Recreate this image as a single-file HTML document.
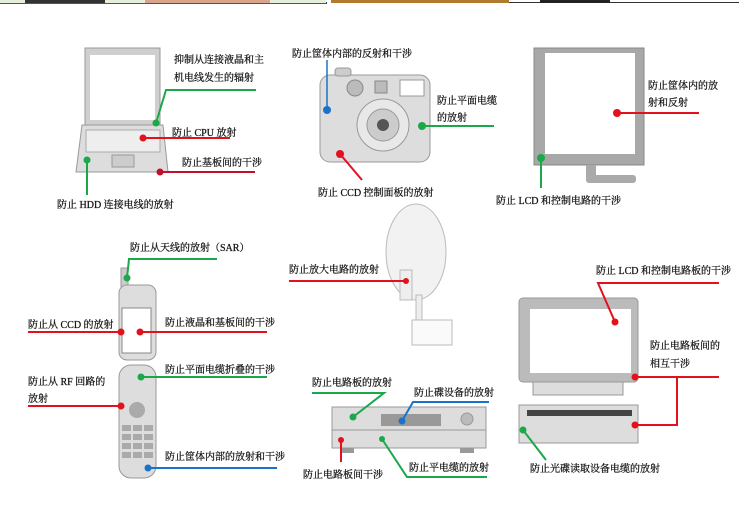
<!DOCTYPE html>
<html><head><meta charset="utf-8"><style>
html,body{margin:0;padding:0;background:#fff;}
svg{display:block}
text{font-family:"Liberation Serif","Noto Serif CJK SC",serif;font-size:10px;fill:#111;stroke:#111;stroke-width:0.25;}
</style></head><body>
<svg width="740" height="520" viewBox="0 0 740 520" xmlns="http://www.w3.org/2000/svg">
<!-- top strip -->
<rect x="0" y="0" width="326" height="3" fill="#e6eedc"/>
<rect x="25" y="0" width="80" height="3" fill="#333"/>
<rect x="145" y="0" width="125" height="3" fill="#d9a58a"/>
<rect x="326" y="2" width="1" height="1" fill="#333"/>
<rect x="331" y="0" width="178" height="3" fill="#b07a30"/>
<rect x="509" y="0" width="231" height="3" fill="#fff"/>
<rect x="509" y="2" width="230" height="1" fill="#333"/>
<rect x="540" y="0" width="70" height="3" fill="#222"/>
<rect x="0" y="3" width="327" height="1" fill="#555"/>

<g stroke-width="2" fill="none">
<!-- Laptop -->
<rect x="85" y="48" width="75" height="77" fill="#cfcfcf" stroke="#999" stroke-width="1"/>
<rect x="90" y="55" width="65" height="65" fill="#fff" stroke="none"/>
<polygon points="82,125 163,125 168,172 76,172" fill="#ddd" stroke="#999" stroke-width="1"/>
<rect x="86" y="130" width="74" height="22" fill="#eee" stroke="#aaa" stroke-width="1"/>
<rect x="112" y="155" width="22" height="12" fill="#ccc" stroke="#999" stroke-width="1"/>
<polyline points="156,123 166,90 256,90" stroke="#1aa84a"/>
<line x1="143" y1="138" x2="230" y2="138" stroke="#e3101d"/>
<line x1="160" y1="172" x2="255" y2="172" stroke="#c0102a"/>
<line x1="87" y1="160" x2="87" y2="195" stroke="#1aa84a"/>

<!-- Camera -->
<rect x="320" y="75" width="110" height="87" rx="10" fill="#ddd" stroke="#999" stroke-width="1"/>
<rect x="335" y="68" width="16" height="8" rx="3" fill="#ccc" stroke="#999" stroke-width="1"/>
<rect x="400" y="80" width="24" height="16" fill="#fff" stroke="#999" stroke-width="1"/>
<circle cx="355" cy="88" r="8" fill="#bbb" stroke="#888" stroke-width="1"/>
<rect x="375" y="81" width="12" height="12" fill="#bbb" stroke="#888" stroke-width="1"/>
<circle cx="383" cy="125" r="26" fill="#e8e8e8" stroke="#999" stroke-width="1"/>
<circle cx="383" cy="125" r="16" fill="#ccc" stroke="#999" stroke-width="1"/>
<circle cx="383" cy="125" r="6" fill="#555" stroke="none"/>
<line x1="327" y1="60" x2="327" y2="108" stroke="#1a73c8" stroke-width="1.5"/>
<line x1="422" y1="126" x2="494" y2="126" stroke="#1aa84a"/>
<line x1="340" y1="154" x2="362" y2="180" stroke="#e3101d"/>

<!-- Monitor -->
<rect x="534" y="48" width="110" height="117" fill="#a8a8a8" stroke="#888" stroke-width="1"/>
<rect x="545" y="53" width="90" height="101" fill="#fff" stroke="none"/>
<rect x="586" y="165" width="10" height="12" fill="#aaa" stroke="none"/>
<rect x="586" y="175" width="50" height="8" rx="3" fill="#aaa" stroke="none"/>
<line x1="617" y1="113" x2="699" y2="113" stroke="#e3101d"/>
<line x1="541" y1="158" x2="541" y2="188" stroke="#1aa84a"/>

<!-- Phone -->
<rect x="121" y="268" width="7" height="20" fill="#ccc" stroke="#999" stroke-width="1"/>
<rect x="119" y="285" width="37" height="75" rx="8" fill="#ddd" stroke="#999" stroke-width="1"/>
<rect x="122" y="308" width="29" height="45" fill="#fff" stroke="#888" stroke-width="1"/>
<rect x="119" y="365" width="37" height="113" rx="12" fill="#ddd" stroke="#999" stroke-width="1"/>
<g fill="#aaa" stroke="none">
<circle cx="137" cy="410" r="8"/>
<rect x="122" y="425" width="9" height="6"/><rect x="133" y="425" width="9" height="6"/><rect x="144" y="425" width="9" height="6"/>
<rect x="122" y="434" width="9" height="6"/><rect x="133" y="434" width="9" height="6"/><rect x="144" y="434" width="9" height="6"/>
<rect x="122" y="443" width="9" height="6"/><rect x="133" y="443" width="9" height="6"/><rect x="144" y="443" width="9" height="6"/>
<rect x="122" y="452" width="9" height="6"/><rect x="133" y="452" width="9" height="6"/><rect x="144" y="452" width="9" height="6"/>
</g>
<polyline points="127,278 129,259 217,259" stroke="#1aa84a"/>
<line x1="28" y1="332" x2="121" y2="332" stroke="#e3101d"/>
<line x1="140" y1="332" x2="267" y2="332" stroke="#e3101d"/>
<line x1="141" y1="377" x2="267" y2="377" stroke="#1aa84a"/>
<line x1="28" y1="406" x2="121" y2="406" stroke="#e3101d"/>
<line x1="148" y1="468" x2="277" y2="468" stroke="#1a73c8"/>

<!-- Dish -->
<ellipse cx="416" cy="252" rx="30" ry="48" fill="#f2f2f2" stroke="#bbb" stroke-width="1"/>
<rect x="400" y="270" width="12" height="30" fill="#eee" stroke="#bbb" stroke-width="1"/>
<rect x="416" y="295" width="6" height="40" fill="#eee" stroke="#bbb" stroke-width="1"/>
<rect x="412" y="320" width="40" height="25" fill="#fafafa" stroke="#bbb" stroke-width="1"/>
<line x1="289" y1="281" x2="406" y2="281" stroke="#e3101d"/>

<!-- Receiver -->
<rect x="332" y="407" width="154" height="41" fill="#ddd" stroke="#999" stroke-width="1"/>
<line x1="332" y1="430" x2="486" y2="430" stroke="#999" stroke-width="1"/>
<rect x="381" y="414" width="60" height="12" fill="#999" stroke="none"/>
<circle cx="467" cy="419" r="6" fill="#bbb" stroke="#999" stroke-width="1"/>
<rect x="340" y="448" width="14" height="5" fill="#999" stroke="none"/>
<rect x="460" y="448" width="14" height="5" fill="#999" stroke="none"/>
<polyline points="353,417 384,393 312,393" stroke="#1aa84a"/>
<polyline points="402,421 413,402 489,402" stroke="#1a73c8"/>
<line x1="341" y1="440" x2="341" y2="462" stroke="#e3101d"/>
<polyline points="382,439 407,477 487,477" stroke="#1aa84a"/>

<!-- TV -->
<rect x="519" y="298" width="119" height="84" rx="4" fill="#bbb" stroke="#999" stroke-width="1"/>
<rect x="530" y="309" width="101" height="64" fill="#fff" stroke="none"/>
<rect x="533" y="382" width="90" height="13" fill="#ddd" stroke="#999" stroke-width="1"/>
<rect x="519" y="405" width="119" height="38" fill="#ddd" stroke="#999" stroke-width="1"/>
<rect x="527" y="410" width="105" height="6" fill="#444" stroke="none"/>
<polyline points="615,322 598,283 719,283" stroke="#e3101d"/>
<line x1="635" y1="377" x2="719" y2="377" stroke="#e3101d"/>
<polyline points="677,377 677,425 635,425" stroke="#e3101d"/>
<line x1="523" y1="430" x2="546" y2="460" stroke="#1aa84a"/>
</g>

<!-- dots -->
<g stroke="none">
<circle cx="156" cy="123" r="3.5" fill="#1aa84a"/>
<circle cx="143" cy="138" r="3.5" fill="#e3101d"/>
<circle cx="160" cy="172" r="3.5" fill="#c0102a"/>
<circle cx="87" cy="160" r="3.5" fill="#1aa84a"/>
<circle cx="327" cy="110" r="4" fill="#1a73c8"/>
<circle cx="422" cy="126" r="4" fill="#1aa84a"/>
<circle cx="340" cy="154" r="4" fill="#e3101d"/>
<circle cx="617" cy="113" r="4" fill="#e3101d"/>
<circle cx="541" cy="158" r="4" fill="#1aa84a"/>
<circle cx="127" cy="278" r="3.5" fill="#1aa84a"/>
<circle cx="121" cy="332" r="3.5" fill="#e3101d"/>
<circle cx="140" cy="332" r="3.5" fill="#e3101d"/>
<circle cx="141" cy="377" r="3.5" fill="#1aa84a"/>
<circle cx="121" cy="406" r="3.5" fill="#e3101d"/>
<circle cx="148" cy="468" r="3.5" fill="#1a73c8"/>
<circle cx="406" cy="281" r="3" fill="#e3101d"/>
<circle cx="353" cy="417" r="3.5" fill="#1aa84a"/>
<circle cx="402" cy="421" r="3.5" fill="#1a73c8"/>
<circle cx="341" cy="440" r="3" fill="#e3101d"/>
<circle cx="382" cy="439" r="3" fill="#1aa84a"/>
<circle cx="615" cy="322" r="3.5" fill="#e3101d"/>
<circle cx="635" cy="377" r="3.5" fill="#e3101d"/>
<circle cx="635" cy="425" r="3.5" fill="#e3101d"/>
<circle cx="523" cy="430" r="3.5" fill="#1aa84a"/>
</g>

<!-- labels -->
<text x="174" y="63">抑制从连接液晶和主</text>
<text x="174" y="81">机电线发生的辐射</text>
<text x="172" y="136">防止 CPU 放射</text>
<text x="182" y="166">防止基板间的干涉</text>
<text x="57" y="208">防止 HDD 连接电线的放射</text>
<text x="292" y="57">防止筐体内部的反射和干涉</text>
<text x="437" y="104">防止平面电缆</text>
<text x="437" y="121">的放射</text>
<text x="318" y="196">防止 CCD 控制面板的放射</text>
<text x="648" y="89">防止筐体内的放</text>
<text x="648" y="106">射和反射</text>
<text x="496" y="204">防止 LCD 和控制电路的干涉</text>
<text x="130" y="251">防止从天线的放射（SAR）</text>
<text x="289" y="273">防止放大电路的放射</text>
<text x="28" y="328">防止从 CCD 的放射</text>
<text x="165" y="326">防止液晶和基板间的干涉</text>
<text x="165" y="373">防止平面电缆折叠的干涉</text>
<text x="28" y="385">防止从 RF 回路的</text>
<text x="28" y="402">放射</text>
<text x="165" y="460">防止筐体内部的放射和干涉</text>
<text x="312" y="386">防止电路板的放射</text>
<text x="414" y="396">防止碟设备的放射</text>
<text x="303" y="478">防止电路板间干涉</text>
<text x="409" y="471">防止平电缆的放射</text>
<text x="596" y="274">防止 LCD 和控制电路板的干涉</text>
<text x="650" y="349">防止电路板间的</text>
<text x="650" y="367">相互干涉</text>
<text x="530" y="472">防止光碟读取设备电缆的放射</text>
</svg>
</body></html>
